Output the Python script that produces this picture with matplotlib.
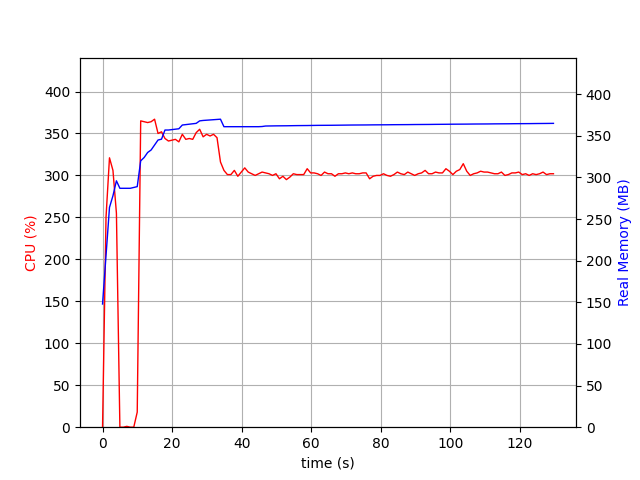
import matplotlib
matplotlib.use('Agg')
import matplotlib.pyplot as plt
import numpy as np

# CPU usage (%) per sample
cpu = [0, 250, 321, 306, 255, 0, 0, 1, 0, 0,
       18, 365, 364, 363, 364, 367, 350, 352, 344, 341,
       342, 343, 340, 349, 343, 344, 343, 351, 355, 346,
       349, 347, 349, 345, 316, 306, 301, 301, 306, 299,
       304, 309, 304, 302, 300, 302, 304, 303, 302, 300,
       302, 296, 299, 295, 298, 302, 301, 301, 301, 308,
       303, 303, 302, 300, 304, 302, 302, 299, 302, 302,
       303, 302, 303, 302, 302, 303, 303, 296, 299, 300,
       300, 302, 300, 299, 301, 304, 302, 301, 304, 302,
       300, 302, 303, 306, 302, 302, 304, 303, 303, 308,
       305, 301, 305, 307, 314, 305, 300, 302, 303, 305,
       304, 304, 303, 302, 302, 304, 300, 301, 303, 303,
       304, 301, 302, 300, 302, 301, 302, 304, 301, 302,
       302]

# Real memory (MB) per sample
mem = [148, 206, 264, 278, 296, 287, 287, 287, 287, 288,
       289, 320, 324, 330, 333, 339, 345, 346, 357, 357,
       357.5, 358, 358.5, 363, 363.5, 364, 364.5, 365, 368, 368.5,
       368.8, 369, 369.3, 369.6, 370, 361, 361, 361, 361, 361,
       361, 361, 361, 361, 361, 361, 361.2, 361.8, 361.9, 362,
       362, 362, 362, 362.1, 362.2, 362.2, 362.3, 362.3, 362.4, 362.4,
       362.5, 362.5, 362.6, 362.6, 362.7, 362.7, 362.7, 362.8, 362.8, 362.8,
       362.9, 363, 363, 363, 363.1, 363.1, 363.1, 363.2, 363.2, 363.2,
       363.3, 363.3, 363.3, 363.4, 363.4, 363.4, 363.5, 363.5, 363.5, 363.6,
       363.6, 363.6, 363.7, 363.7, 363.7, 363.8, 363.8, 363.8, 363.9, 363.9,
       364, 364, 364, 364.1, 364.1, 364.1, 364.2, 364.2, 364.2, 364.3,
       364.3, 364.3, 364.4, 364.4, 364.4, 364.5, 364.5, 364.5, 364.6, 364.6,
       364.6, 364.7, 364.7, 364.7, 364.8, 364.8, 364.8, 364.9, 364.9, 365,
       365]

# sample times (s), roughly one second apart
t_end = 129.7
times = np.linspace(0, t_end, len(cpu))

fig = plt.figure(figsize=(6.4, 4.8), dpi=100)
ax = fig.add_subplot(1, 1, 1)
ax.plot(times, cpu, '-', lw=1, color='r')
ax.set_ylabel('CPU (%)', color='r')
ax.set_xlabel('time (s)')
ax.set_ylim(0., max(cpu) * 1.2)

ax2 = ax.twinx()
ax2.plot(times, mem, '-', lw=1, color='b')
ax2.set_ylim(0., max(mem) * 1.2)
ax2.set_ylabel('Real Memory (MB)', color='b')

ax.grid()

fig.savefig('out.png')
